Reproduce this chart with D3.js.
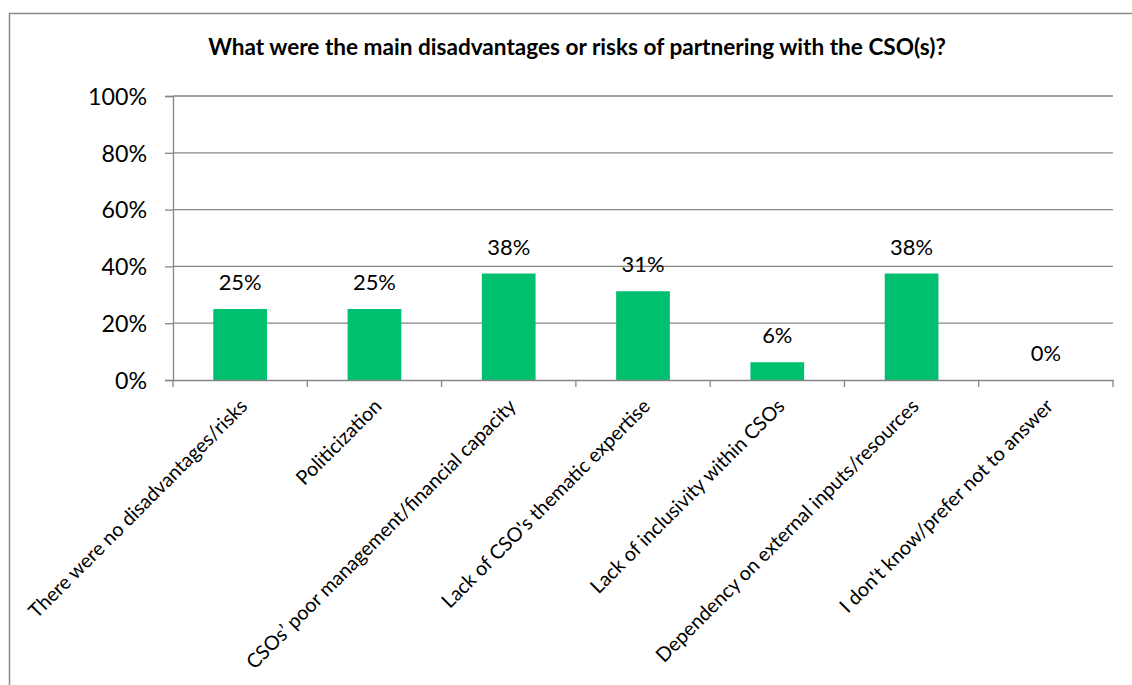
<!DOCTYPE html>
<html><head><meta charset="utf-8">
<script src="https://cdn.jsdelivr.net/npm/d3@7"></script>
<style>body{margin:0;background:#fff}svg{display:block}text{font-family:Lato,"Open Sans",sans-serif;fill:#000}</style>
</head><body>
<svg id="c" width="1132" height="685"></svg>
<script>
const title = "What were the main disadvantages or risks of partnering with the CSO(s)?";
const categories = ["There were no disadvantages/risks","Politicization","CSOs’ poor management/financial capacity","Lack of CSO's thematic expertise","Lack of inclusivity within CSOs","Dependency on external inputs/resources","I don't know/prefer not to answer"];
const values = [25, 25, 37.5, 31.25, 6.25, 37.5, 0];
const valueLabels = ["25%","25%","38%","31%","6%","38%","0%"];
const yTicks = [0, 20, 40, 60, 80, 100];

const svg = d3.select("#c");
const W = 1132, H = 685;
const m = {left:173, right:1113, top:96, bottom:380};
const x = d3.scaleBand().domain(categories).range([m.left, m.right]).paddingInner(0).paddingOuter(0);
const y = d3.scaleLinear().domain([0,100]).range([m.bottom, m.top]);
const grid = "#868686", green = "#00BF6F";

svg.append("rect").attr("width",W).attr("height",H).attr("fill","#fff");
svg.append("path").attr("d",`M9.5,${H} V13.5 H${W}`).attr("fill","none").attr("stroke","#8a8a8a").attr("stroke-width",1.5);

function fit(sel, target){
  const base = 20; sel.style("font-size", base+"px");
  const w = sel.node().getComputedTextLength();
  const fs = base*target/w; sel.style("font-size", fs+"px"); return fs;
}

// title
const t = svg.append("text").attr("x",577).attr("y",55).attr("text-anchor","middle").style("font-weight","700").text(title);
fit(t, 738);

// gridlines
svg.append("g").selectAll("line").data(yTicks.filter(d=>d>0)).join("line")
  .attr("x1",m.left).attr("x2",m.right).attr("y1",d=>y(d)).attr("y2",d=>y(d))
  .attr("stroke",grid).attr("stroke-width",1.3);

// y axis
const ya = svg.append("g").attr("transform",`translate(${m.left},0)`)
  .call(d3.axisLeft(y).tickValues(yTicks).tickFormat(d=>d+"%").tickSize(8).tickPadding(18));
ya.select(".domain").attr("stroke",grid).attr("stroke-width",1.3);
ya.selectAll(".tick line").attr("stroke",grid).attr("stroke-width",1.3);
ya.selectAll(".tick text").attr("font-family",null).attr("font-size",null).attr("dy","0.36em");
const probe = svg.append("text").text("100%"); const yfs = fit(probe, 59); probe.remove();
ya.selectAll(".tick text").style("font-size", yfs+"px");

// bars
const bw = x.bandwidth()*0.40;
svg.append("g").selectAll("rect").data(values).join("rect")
  .attr("x",(d,i)=>x(categories[i])+x.bandwidth()/2-bw/2).attr("width",bw)
  .attr("y",d=>y(d)).attr("height",d=>y(0)-y(d)).attr("fill",green);

// x axis
const xa = svg.append("g").attr("transform",`translate(0,${m.bottom})`).call(d3.axisBottom(x).tickSize(0).tickFormat(""));
xa.select(".domain").attr("stroke",grid).attr("stroke-width",1.3);
xa.selectAll(".tick").remove();
const edges = categories.map(c=>x(c)).concat([m.right]);
xa.selectAll("line.tk").data(edges).join("line").attr("class","tk")
  .attr("x1",d=>d).attr("x2",d=>d).attr("y1",0).attr("y2",7).attr("stroke",grid).attr("stroke-width",1.3);

// data labels
const probe2 = svg.append("text").text("25%"); const dfs = fit(probe2, 43); probe2.remove();
svg.append("g").selectAll("text").data(values).join("text")
  .attr("x",(d,i)=>x(categories[i])+x.bandwidth()/2).attr("y",d=>y(d)-19)
  .attr("text-anchor","middle").style("font-size",dfs+"px").text((d,i)=>valueLabels[i]);

// category labels
const probe3 = svg.append("text").text(categories[2]); const cfs = fit(probe3, 372); probe3.remove();
svg.append("g").selectAll("text").data(categories).join("text")
  .attr("transform",d=>`translate(${x(d)+x.bandwidth()/2-2},${m.bottom+17}) rotate(-45)`)
  .attr("x",0).attr("y",cfs*0.75).attr("text-anchor","end").style("font-size",cfs+"px").text(d=>d);
</script>
</body></html>
